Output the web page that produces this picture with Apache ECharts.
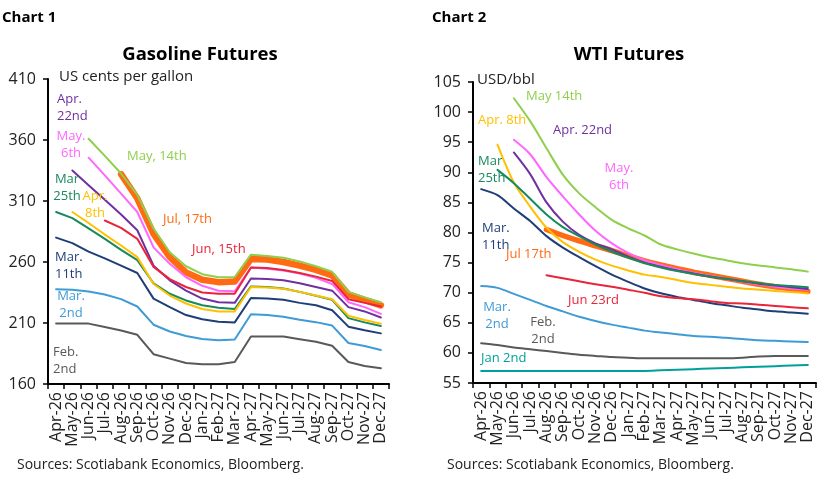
<!DOCTYPE html>
<html><head><meta charset="utf-8">
<script src="https://cdn.jsdelivr.net/npm/echarts@6/dist/echarts.min.js"></script>
<style>html,body{margin:0;padding:0;background:#fff}#c{width:828px;height:483px}</style>
</head><body><div id="c"></div>
<script>
const months = ['Apr-26','May-26','Jun-26','Jul-26','Aug-26','Sep-26','Oct-26','Nov-26','Dec-26','Jan-27','Feb-27','Mar-27','Apr-27','May-27','Jun-27','Jul-27','Aug-27','Sep-27','Oct-27','Nov-27','Dec-27'];

// Chart 1: Gasoline futures, US cents per gallon
const gasFeb2  = [209.5,209.5,209.5,206.7,203.9,200.3,184.4,180.8,177.2,176.1,176.1,178,198.9,198.9,198.9,196.7,194.7,191.4,178,174.7,173];
const gasMar2  = [237.7,237.2,235.8,233.4,229.6,223.5,208.6,203,199.3,196.9,195.8,196.5,217.2,216.5,215.2,212.7,210.7,207.9,193.6,191.1,187.9];
const gasMar11 = [280,275.5,268.5,263,257,251,230,223,216.5,213,211,210.5,230.5,230,229,226.5,224.5,220.5,207,204,201.5];
const gasMar25 = [301,296,287.5,279,270,261.5,242.5,234,228.5,224.5,222.5,221.5,240,239.5,238.3,235.5,232.3,229,214,210.5,207.5];
const gasApr8  = [null,301,292,282.5,273.5,264,242,232.5,226,221.5,219.5,219.5,239.5,239,238,235.5,232.5,229.5,216,212.5,209.5];
const gasApr22 = [null,335,323,311,299,286,257,245,236.5,230,227,226.5,246.5,246,245,242.5,239.5,236.5,223,219.5,214.5];
const gasMay6  = [null,null,345.5,331,316,301,272,258.5,247.5,240.5,236.5,236,255.5,254.5,253,250.5,247,242,227,223,217.5];
const gasMay14 = [null,null,361,347,332.5,315,287.5,268,256.5,250,247.5,247.5,266,265,263.5,260.5,256.5,252,235.5,231,227];
const gasJun15 = [null,null,null,294,288,279,256,246,239.5,235,234,234,255.5,255,253.5,251,248,244.5,229.5,226.5,223.5];
const gasJul17 = [null,null,null,null,332,312,283,264,251.5,245.5,243.5,244,262.5,262,260,257,253.5,249,233.5,229,224.5];

// Chart 2: WTI futures, USD/bbl
const wtiJan2  = [57,57,57,57,57,57,57,57,57,57,57,57.1,57.2,57.3,57.4,57.5,57.6,57.7,57.8,57.9,58];
const wtiFeb2  = [61.6,61.3,60.9,60.6,60.3,60,59.7,59.5,59.3,59.2,59.1,59.1,59.1,59.1,59.1,59.1,59.2,59.4,59.5,59.5,59.5];
const wtiMar2  = [71.1,70.8,69.8,68.8,67.8,66.9,66,65.3,64.7,64.2,63.7,63.4,63.1,62.8,62.7,62.5,62.3,62.1,62,61.9,61.8];
const wtiMar11 = [87.2,86.2,84,81.9,79.4,77.5,75.9,74.4,73,71.8,70.7,69.9,69.3,68.8,68.3,67.9,67.5,67.2,66.9,66.7,66.5];
const wtiMar25 = [null,90.4,88.2,85.6,83,80.9,79.4,78,76.8,75.8,74.9,74.2,73.6,73.1,72.7,72.3,71.9,71.6,71.3,71.1,70.9];
const wtiApr8  = [null,94.6,88.3,84.3,80.8,78.4,76.8,75.5,74.5,73.7,73,72.6,72.1,71.6,71.3,71,70.7,70.5,70.3,70.1,69.9];
const wtiApr22 = [null,null,93.3,89.7,85,81.8,79.6,78.2,77.2,76,75,74.3,73.7,73.2,72.7,72.3,71.9,71.5,71.2,70.9,70.6];
const wtiMay6  = [null,null,95.4,93,89.2,86,83,80.3,78.2,76.6,75.4,74.6,73.9,73.3,72.8,72.3,71.8,71.4,71,70.7,70.5];
const wtiMay14 = [null,null,102.3,98.5,94,89.6,86.5,84.2,82.1,80.7,79.5,78,77.2,76.5,75.9,75.4,74.9,74.5,74.2,73.9,73.5];
const wtiJun23 = [null,null,null,null,72.9,72.4,71.9,71.4,71,70.5,70,69.4,69.1,68.9,68.6,68.3,68.2,68,67.8,67.6,67.4];
const wtiJul17 = [null,null,null,null,80.5,79.5,78.6,77.8,77,76.1,75.3,74.6,74,73.4,72.9,72.4,71.9,71.4,71,70.6,70.2];

const gasTicks = [160, 210, 260, 310, 360, 410];
const wtiTicks = [55, 60, 65, 70, 75, 80, 85, 90, 95, 100, 105];

const C = {
  gray:'#595959', lblue:'#3f9bd6', navy:'#1f3e78', green:'#168a5c', gold:'#ffc000',
  purple:'#7030a0', magenta:'#ff66ff', lgreen:'#8fcf4c', red:'#e8253a', orange:'#ff6a13', teal:'#00a09c'
};
const FONT = '"Open Sans", "Noto Sans", sans-serif';

function mkSeries(idx, data, color, w, z) {
  return { type:'line', xAxisIndex:idx, yAxisIndex:idx, data:data, symbol:'none', connectNulls:false,
           smooth: idx === 1 ? 0.3 : false,
           lineStyle:{color:color, width:w||2, cap:'round', join:'round'}, itemStyle:{color:color}, z:z||2, animation:false };
}

const series = [
  mkSeries(0, gasJul17, C.orange, 6.5, 1),
  mkSeries(0, gasFeb2, C.gray), mkSeries(0, gasMar2, C.lblue), mkSeries(0, gasMar11, C.navy),
  mkSeries(0, gasMar25, C.green), mkSeries(0, gasApr8, C.gold), mkSeries(0, gasApr22, C.purple),
  mkSeries(0, gasMay6, C.magenta), mkSeries(0, gasJun15, C.red), mkSeries(0, gasMay14, C.lgreen),
  mkSeries(1, wtiJul17, C.orange, 5.5, 1),
  mkSeries(1, wtiJan2, C.teal), mkSeries(1, wtiFeb2, C.gray), mkSeries(1, wtiMar2, C.lblue),
  mkSeries(1, wtiMar11, C.navy), mkSeries(1, wtiJun23, C.red), mkSeries(1, wtiApr8, C.gold),
  mkSeries(1, wtiMay6, C.magenta), mkSeries(1, wtiApr22, C.purple), mkSeries(1, wtiMar25, C.green),
  mkSeries(1, wtiMay14, C.lgreen)
];

function xAx(idx) {
  return { type:'category', gridIndex:idx, data:months, boundaryGap:true,
    axisLine:{lineStyle:{color:'#000', width:2}},
    axisTick:{show:true, length:5, alignWithLabel:false, interval:0, lineStyle:{color:'#000', width:1.5}},
    axisLabel:{rotate:90, interval:0, color:'#222', fontSize:16, fontFamily:FONT, margin:8},
    splitLine:{show:false} };
}
function yAx(idx, ticks) {
  return { type:'value', gridIndex:idx, min:ticks[0], max:ticks[ticks.length-1], interval:ticks[1]-ticks[0],
    axisLine:{show:true, lineStyle:{color:'#000', width:2}},
    axisTick:{show:true, length:5, lineStyle:{color:'#000', width:1.5}},
    axisLabel:{color:'#222', fontSize:16, fontFamily:FONT, margin:12},
    splitLine:{show:false} };
}

function txt(text, x, y, color, opts) {
  opts = opts || {};
  return { type:'text', x:x, y:y, z:100, style:{ text:text, fill:color,
    font:(opts.weight||'normal') + ' ' + (opts.size||13) + 'px ' + FONT,
    textAlign:opts.align||'left', verticalAlign:'top', lineHeight:opts.lh||17 } };
}

const graphics = [
  txt('Chart 1', 2, 9, '#000', {weight:'bold', size:15}),
  txt('Chart 2', 432, 9, '#000', {weight:'bold', size:15}),
  txt('Gasoline Futures', 200, 43, '#000', {weight:'bold', size:18.5, align:'center', lh:24}),
  txt('WTI Futures', 629, 43, '#000', {weight:'bold', size:18.5, align:'center', lh:24}),
  txt('US cents per gallon', 59, 67, '#222', {size:15, lh:20}),
  txt('USD/bbl', 477, 70, '#222', {size:15, lh:20}),
  txt('Sources: Scotiabank Economics, Bloomberg.', 17, 455, '#222', {size:14, lh:20}),
  txt('Sources: Scotiabank Economics, Bloomberg.', 447, 455, '#222', {size:14, lh:20}),
  // chart 1 labels
  txt('Apr.\n22nd', 57, 91, C.purple),
  txt('May.\n6th', 71, 128, C.magenta, {align:'center'}),
  txt('May, 14th', 127, 148, C.lgreen),
  txt('Mar\n25th', 67, 171, C.green, {align:'center'}),
  txt('Apr.\n8th', 95, 188, C.gold, {align:'center'}),
  txt('Jul, 17th', 163, 211, C.orange),
  txt('Jun, 15th', 192, 241, C.red),
  txt('Mar.\n11th', 55, 249, C.navy),
  txt('Mar.\n2nd', 71, 288, C.lblue, {align:'center'}),
  txt('Feb.\n2nd', 53, 344, C.gray),
  // chart 2 labels
  txt('May 14th', 526, 88, C.lgreen),
  txt('Apr. 8th', 478, 112, C.gold),
  txt('Apr. 22nd', 553, 122, C.purple),
  txt('May.\n6th', 619, 160, C.magenta, {align:'center'}),
  txt('Mar\n25th', 478, 153, C.green),
  txt('Mar.\n11th', 482, 220, C.navy),
  txt('Jul 17th', 506, 246, C.orange),
  txt('Jun 23rd', 568, 292, C.red),
  txt('Mar.\n2nd', 497, 299, C.lblue, {align:'center'}),
  txt('Feb.\n2nd', 543, 314, C.gray, {align:'center'}),
  txt('Jan 2nd', 481, 350, C.teal)
];

const chart = echarts.init(document.getElementById('c'), null, {renderer:'canvas'});
chart.setOption({
  animation:false,
  backgroundColor:'#fff',
  grid:[{left:48, top:79, width:341, height:305}, {left:473, top:82, width:343, height:301}],
  xAxis:[xAx(0), xAx(1)],
  yAxis:[yAx(0, gasTicks), yAx(1, wtiTicks)],
  series:series,
  graphic:graphics
});
</script></body></html>
